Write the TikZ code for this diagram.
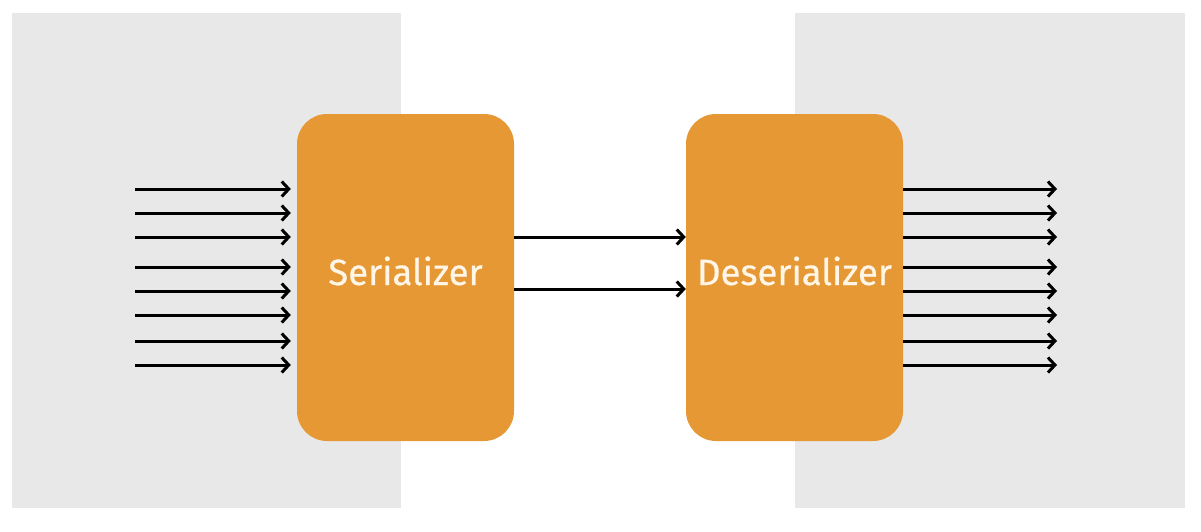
\documentclass[tikz,border=0pt]{standalone}
\usepackage{fontspec}
\setmainfont{Fira Sans}
\newfontfamily\boxfont[FakeBold=0.6]{Fira Sans}
\usetikzlibrary{arrows.meta}
\definecolor{bggray}{HTML}{E8E8E8}
\definecolor{boxorange}{HTML}{E59834}
\definecolor{boxtext}{HTML}{FFF6E8}
\begin{document}
\begin{tikzpicture}[x=1pt,y=-1pt,
  panel/.style={fill=bggray,draw=none},
  procbox/.style={fill=boxorange,draw=none,rounded corners=30pt,minimum width=217pt,minimum height=327pt,inner sep=0pt,text height=20pt,text depth=5pt,text=boxtext,font=\boxfont\fontsize{36.5}{44}\selectfont},
  wire/.style={line width=3pt,-{Straight Barb[length=7pt,width=15pt,line width=3pt]}}]
\useasboundingbox (0,0) rectangle (1201,531);
\fill[white] (0,0) rectangle (1201,531);
\path[panel] (12,13) rectangle (401,508);
\path[panel] (795,13) rectangle (1185,508);
\node[procbox] (ser) at (405.5,277.5) {Serializer};
\node[procbox] (des) at (794.5,277.5) {Deserializer};
\foreach \i/\yy in {1/189,2/213,3/237,4/267,5/291,6/315,7/341,8/365}{
  \coordinate (in\i) at (135,\yy);
  \coordinate (out\i) at (1057,\yy);
  \draw[wire,shorten >=6pt] (in\i) -- (in\i -| ser.west);
  \draw[wire] (out\i -| des.east) -- (out\i);
}
\foreach \i/\yy in {1/237,2/289}{
  \coordinate (m\i) at (600,\yy);
  \draw[wire] (m\i -| ser.east) -- (m\i -| des.west);
}
\end{tikzpicture}
\end{document}
